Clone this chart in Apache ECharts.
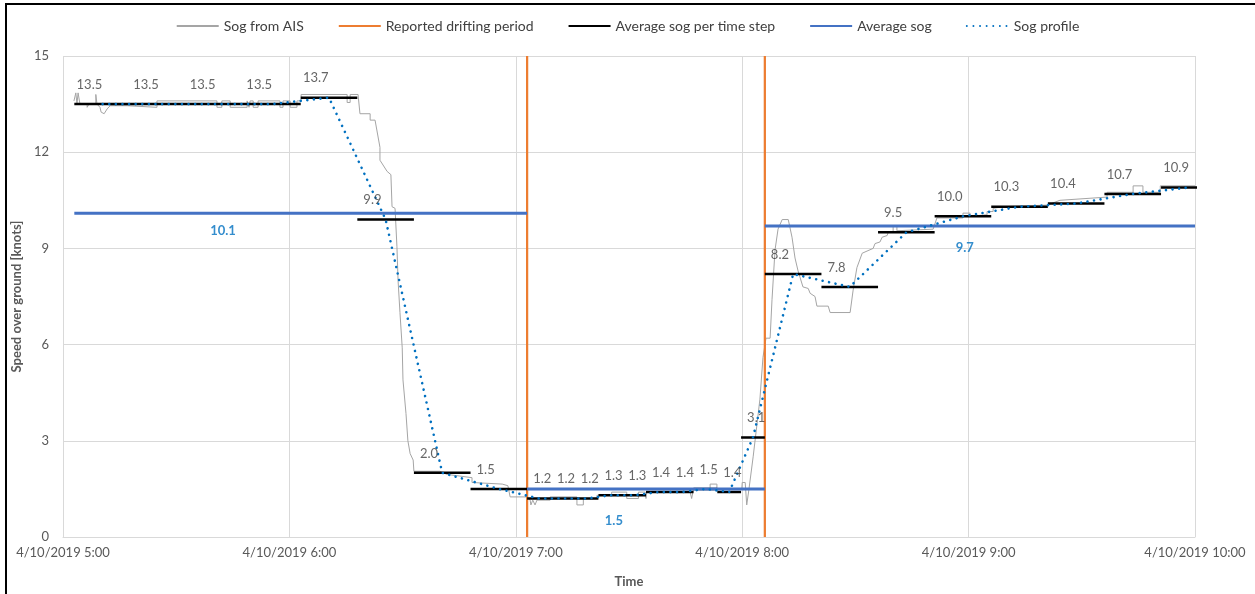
<!DOCTYPE html>
<html><head><meta charset="utf-8">
<script src="https://cdn.jsdelivr.net/npm/echarts@6/dist/echarts.min.js"></script>
<style>html,body{margin:0;padding:0;background:#fff}#c{width:1255px;height:594px}</style>
</head><body><div id="c"></div>
<script>
// ---- Data (times in minutes since midnight, 4/10/2019) ----
const xTickLabels = ['4/10/2019 5:00','4/10/2019 6:00','4/10/2019 7:00','4/10/2019 8:00','4/10/2019 9:00','4/10/2019 10:00'];

const aisTime = [302.9,303.4,303.7,304.0,304.5,306.4,306.4,306.9,306.9,308.7,308.7,309.0,309.8,310.1,310.9,311.7,312.5,317.0,317.0,324.9,324.9,340.8,340.8,342.1,342.1,344.3,344.3,348.8,348.8,349.3,349.3,349.6,350.4,350.4,351.7,351.7,357.5,357.5,358.3,358.3,360.2,360.2,362.0,362.0,363.1,363.1,375.3,375.3,376.1,376.1,378.2,378.7,381.4,381.4,382.7,384.0,384.0,385.9,386.9,387.2,388.0,388.5,388.8,389.3,389.9,390.1,390.9,391.4,392.0,392.8,393.0,399.9,401.8,405.2,408.4,408.4,416.4,417.9,418.5,423.0,423.8,424.0,424.5,425.1,425.6,429.1,429.1,436.2,436.2,437.9,437.9,441.5,441.5,445.4,445.4,449.4,449.4,452.5,452.5,454.3,454.5,454.7,466.2,466.6,467.1,471.5,471.5,473.3,473.3,479.9,480.0,480.8,481.2,481.8,482.9,484.7,485.5,486.3,487.4,487.9,488.7,489.5,490.6,492.2,493.2,494.0,494.8,496.1,497.5,498.0,499.3,499.8,502.8,503.3,508.6,509.4,510.4,511.8,514.7,515.2,516.5,517.1,518.4,518.7,520.0,520.0,521.0,521.0,530.6,531.6,538.5,538.5,540.4,540.4,544.9,544.9,546.5,546.5,549.1,560.8,564.2,576.7,576.7,583.6,583.6,586.2,586.2,590.8,590.8,600.0];
const aisSog = [13.6,13.85,13.5,13.85,13.5,13.5,13.4,13.4,13.5,13.5,13.8,13.5,13.4,13.25,13.2,13.35,13.45,13.45,13.4,13.4,13.6,13.6,13.4,13.4,13.6,13.6,13.4,13.4,13.6,13.6,13.4,13.6,13.6,13.4,13.4,13.6,13.6,13.4,13.4,13.6,13.6,13.4,13.4,13.6,13.6,13.8,13.8,13.55,13.55,13.8,13.8,13.2,13.2,13.0,13.0,12.15,11.75,11.4,11.3,10.3,10.25,9.05,8.0,7.0,5.9,4.9,3.85,3.0,2.6,2.4,2.05,2.05,1.95,1.9,1.85,1.7,1.65,1.6,1.25,1.25,1.15,1.0,1.15,1.0,1.15,1.15,1.25,1.25,1.0,1.0,1.2,1.2,1.3,1.3,1.4,1.4,1.2,1.2,1.4,1.4,1.2,1.4,1.4,1.2,1.5,1.5,1.65,1.65,1.5,1.5,1.7,1.7,1.0,1.5,2.5,4.3,5.6,6.2,6.2,7.4,8.95,9.6,9.9,9.9,9.35,8.7,8.3,7.8,7.75,7.6,7.5,7.2,7.2,7.0,7.0,7.7,8.4,8.85,9.0,9.15,9.2,9.35,9.4,9.5,9.5,9.7,9.7,9.55,9.6,9.95,9.95,10.1,10.1,10.0,10.05,10.15,10.15,10.25,10.3,10.35,10.5,10.6,10.75,10.75,10.95,10.95,10.75,10.75,10.95,10.95];

const driftTimes = [423, 486];

const stepBounds = [303,318,333,348,363,378,393,408,423,429.3,435.6,441.9,448.2,454.5,460.8,467.1,473.4,479.7,486,501,516,531,546,561,576,591,606];
const stepAvg = [13.5,13.5,13.5,13.5,13.7,9.9,2.0,1.5,1.2,1.2,1.2,1.3,1.3,1.4,1.4,1.5,1.4,3.1,8.2,7.8,9.5,10.0,10.3,10.4,10.7,10.9];

const avgBounds = [303, 423, 486, 600];
const avgSog = [10.1, 1.5, 9.7];
const avgLabelTime = [342.4, 446, 539];

// ---- Build series data ----
const aisData = aisTime.map((t, i) => [t, aisSog[i]]);
const driftData = [];
driftTimes.forEach(t => { driftData.push([t, 0], [t, 15], [t, '-']); });
const stepData = [];
stepAvg.forEach((v, i) => { stepData.push([stepBounds[i], v], [stepBounds[i + 1], v], [stepBounds[i + 1], '-']); });
const stepLabelData = stepAvg.map((v, i) => [stepBounds[i] + 4, v]);
const avgData = [];
avgSog.forEach((v, i) => { avgData.push([avgBounds[i], v], [avgBounds[i + 1], v], [avgBounds[i + 1], '-']); });
const avgLabelOffsets = [11, 25, 15];
const avgLabelData = avgSog.map((v, i) => ({
  value: [avgLabelTime[i], v],
  label: { distance: avgLabelOffsets[i] }
}));
const profileData = stepAvg.map((v, i) => [(stepBounds[i] + stepBounds[i + 1]) / 2, v]);

const FONT = 'Lato';
const chart = echarts.init(document.getElementById('c'), null, { renderer: 'canvas' });
chart.setOption({
  animation: false,
  backgroundColor: '#ffffff',
  graphic: [{
    type: 'rect', shape: { x: 6, y: 4, width: 1400, height: 800 },
    style: { fill: 'none', stroke: '#000', lineWidth: 2 }, silent: true, z: 100
  }],
  legend: {
    top: 14, left: 'center',
    itemWidth: 42, itemHeight: 12, itemGap: 34,
    itemStyle: { opacity: 0 },
    textStyle: { fontFamily: FONT, fontSize: 14, color: '#404040' },
    data: ['Sog from AIS', 'Reported drifting period', 'Average sog per time step', 'Average sog', 'Sog profile']
  },
  grid: { left: 63, right: 60, top: 56, bottom: 57 },
  xAxis: {
    type: 'value', min: 300, max: 600, interval: 60,
    name: 'Time', nameLocation: 'middle', nameGap: 38,
    nameTextStyle: { fontFamily: FONT, fontSize: 13, fontWeight: 'bold', color: '#595959' },
    axisLine: { show: true, lineStyle: { color: '#D9D9D9', width: 1 } },
    axisTick: { show: false },
    axisLabel: {
      fontFamily: FONT, fontSize: 13, color: '#595959', margin: 9,
      formatter: v => xTickLabels[Math.round((v - 300) / 60)]
    },
    splitLine: { show: true, lineStyle: { color: '#D9D9D9', width: 1 } }
  },
  yAxis: {
    type: 'value', min: 0, max: 15, interval: 3,
    name: 'Speed over ground [knots]', nameLocation: 'middle', nameGap: 40,
    nameTextStyle: { fontFamily: FONT, fontSize: 13, fontWeight: 'bold', color: '#595959' },
    axisLine: { show: false }, axisTick: { show: false },
    axisLabel: { fontFamily: FONT, fontSize: 13, color: '#595959', margin: 14 },
    splitLine: { show: true, lineStyle: { color: '#D9D9D9', width: 1 } }
  },
  series: [
    {
      name: 'Sog from AIS', type: 'line', data: aisData, symbol: 'none',
      lineStyle: { color: '#A5A5A5', width: 1 }, itemStyle: { color: '#A5A5A5' }
    },
    {
      name: 'Reported drifting period', type: 'line', data: driftData, symbol: 'none',
      lineStyle: { color: '#ED7D31', width: 2.25 }, itemStyle: { color: '#ED7D31' }
    },
    {
      name: 'Average sog per time step', type: 'line', data: stepData, symbol: 'none',
      lineStyle: { color: '#000000', width: 2.5 }, itemStyle: { color: '#000000' }
    },
    {
      name: 'Average sog', type: 'line', data: avgData, symbol: 'none',
      lineStyle: { color: '#4472C4', width: 3 }, itemStyle: { color: '#4472C4' }
    },
    {
      name: 'Sog profile', type: 'line', data: profileData, symbol: 'none',
      lineStyle: { color: '#0070C0', width: 2.6, type: [0.01, 6.6], cap: 'round' },
      itemStyle: { color: '#0070C0' }
    },
    {
      name: 'stepLabels', type: 'scatter', data: stepLabelData, symbolSize: 0, silent: true,
      label: {
        show: true, position: 'top', distance: 13,
        fontFamily: FONT, fontSize: 13, color: '#404040',
        formatter: p => p.value[1].toFixed(1)
      }, z: 5
    },
    {
      name: 'avgLabels', type: 'scatter', data: avgLabelData, symbolSize: 0, silent: true,
      label: {
        show: true, position: 'bottom',
        fontFamily: FONT, fontSize: 13, fontWeight: 'bold', color: '#0070C0',
        formatter: p => p.value[1].toFixed(1)
      }, z: 5
    }
  ]
});
</script></body></html>
